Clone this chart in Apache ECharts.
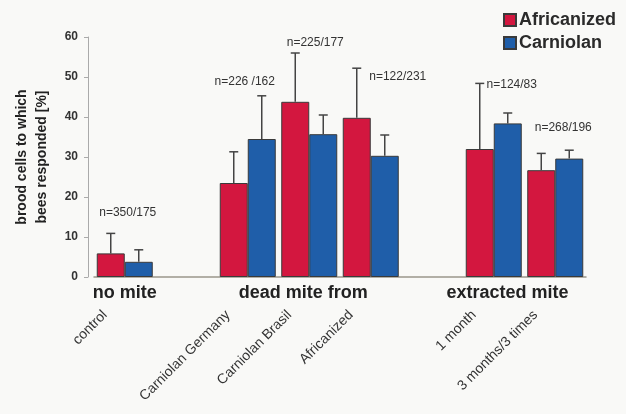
<!DOCTYPE html>
<html><head><meta charset="utf-8">
<script src="https://cdn.jsdelivr.net/npm/echarts@6/dist/echarts.min.js"></script>
<style>html,body{margin:0;padding:0;background:#f9f9f7}#c{width:626px;height:414px}</style>
</head><body><div id="c"></div>
<script>
const categories = ['control', ' ', 'Carniolan Germany', 'Carniolan Brasil', 'Africanized', '  ', '1 month', '3 months/3 times'];
const africanized    = [5.9, null, 23.5, 43.8, 39.8, null, 32.0, 26.7];
const africanizedErr = [5.0, null, 7.8, 12.2, 12.4, null, 16.4, 4.2];
const carniolan      = [3.8, null, 34.5, 35.7, 30.3, null, 38.4, 29.6];
const carniolanErr   = [3.0, null, 10.8, 4.8, 5.2, null, 2.6, 2.1];
const seriesNames = ['Africanized', 'Carniolan'];
const annotTexts = ['n=350/175', 'n=226 /162', 'n=225/177', 'n=122/231', 'n=124/83', 'n=268/196'];
const annotCats  = [0, 2, 3, 4, 6, 7];
const annotVals  = [16, 48.8, 58.6, 50, 48.2, 37.4];
const groupNames = ['no mite', 'dead mite from', 'extracted mite'];
const groupCats  = [0, 3, 6.5];
const yTitle = 'brood cells to which\nbees responded [%]';

// styling
const FONT = 'Liberation Sans, Arial, Helvetica, sans-serif';
const RED = '#d3173f', BLUE = '#1f5ea9';
const BAR_W = 28;
const annotDx = [3, -3, 6, 27, 18, 8];
const groupDx = [0, -6, -17];

function errData(vals, errs) {
  const out = [];
  vals.forEach((v, i) => { if (v != null) out.push([i, v, errs[i]]); });
  return out;
}
function errSeries(vals, errs, side) {
  return {
    type: 'custom', silent: true, z: 3,
    data: errData(vals, errs),
    renderItem: function (params, api) {
      const i = api.value(0), v = api.value(1), e = api.value(2);
      const p0 = api.coord([i, v]);
      const p1 = api.coord([i, v + e]);
      const x = p0[0] + side * BAR_W / 2;
      const st = { stroke: '#444', lineWidth: 1.5 };
      return { type: 'group', children: [
        { type: 'line', shape: { x1: x, y1: p0[1], x2: x, y2: p1[1] }, style: st },
        { type: 'line', shape: { x1: x - 4.5, y1: p1[1], x2: x + 4.5, y2: p1[1] }, style: st }
      ]};
    }
  };
}

const chart = echarts.init(document.getElementById('c'));
chart.setOption({
  backgroundColor: '#f9f9f7',
  animation: false,
  textStyle: { fontFamily: FONT },
  legend: {
    orient: 'vertical', left: 498, top: 6, itemWidth: 12, itemHeight: 12, itemGap: 5,
    icon: 'rect', data: seriesNames,
    textStyle: { fontSize: 18, fontWeight: 'bold', color: '#2a2a2a', fontFamily: FONT, padding: [0, 0, 0, -2] }
  },
  grid: { left: 94, right: 40, top: 37, bottom: 137 },
  xAxis: {
    type: 'category', data: categories,
    axisLine: { lineStyle: { color: '#9a968c', width: 1.5 } },
    axisTick: { show: false },
    axisLabel: { interval: 0, rotate: 45, fontSize: 14, color: '#333', margin: 16, padding: [0, 28, 0, 0], fontFamily: FONT }
  },
  yAxis: {
    type: 'value', min: 0, max: 60, interval: 10, offset: 6,
    name: yTitle, nameLocation: 'middle', nameGap: 36,
    nameTextStyle: { fontSize: 14, fontWeight: 'bold', color: '#222', lineHeight: 20, fontFamily: FONT },
    axisLine: { show: true, lineStyle: { color: '#aaa' } },
    axisTick: { show: true, length: 4, lineStyle: { color: '#aaa' } },
    axisLabel: { fontSize: 12, fontWeight: 'bold', color: '#333', margin: 10, fontFamily: FONT },
    splitLine: { show: false }
  },
  series: [
    { name: seriesNames[0], type: 'bar', data: africanized, barWidth: BAR_W, barGap: '0%',
      itemStyle: { color: RED, borderColor: '#3a3a3a', borderWidth: 1 } },
    { name: seriesNames[1], type: 'bar', data: carniolan, barWidth: BAR_W, barGap: '0%',
      itemStyle: { color: BLUE, borderColor: '#3a3a3a', borderWidth: 1 } },
    errSeries(africanized, africanizedErr, -1),
    errSeries(carniolan, carniolanErr, 1),
    {
      type: 'custom', silent: true, z: 4,
      data: annotCats.map((c, k) => [c, annotVals[k]]),
      renderItem: function (params, api) {
        const p = api.coord([api.value(0), api.value(1)]);
        return { type: 'text', x: p[0] + annotDx[params.dataIndex], y: p[1],
          style: { text: annotTexts[params.dataIndex], fill: '#333', fontSize: 12, fontFamily: FONT,
                   align: 'center', verticalAlign: 'middle' } };
      }
    }
  ]
});

// group labels positioned from the axis scale
const base = chart.convertToPixel({ gridIndex: 0 }, [0, 0]);
const graphics = groupNames.map((g, k) => {
  const lo = Math.floor(groupCats[k]), hi = Math.ceil(groupCats[k]);
  const xl = chart.convertToPixel({ xAxisIndex: 0 }, lo);
  const xh = chart.convertToPixel({ xAxisIndex: 0 }, hi);
  const x = xl + (xh - xl) * (groupCats[k] - lo);
  return { type: 'text', x: x + groupDx[k], y: base[1] + 16,
    style: { text: g, fill: '#222', fontSize: 18, fontWeight: 'bold', fontFamily: FONT,
             align: 'center', verticalAlign: 'middle' } };
});
chart.setOption({ graphic: graphics });
</script>
</body></html>
